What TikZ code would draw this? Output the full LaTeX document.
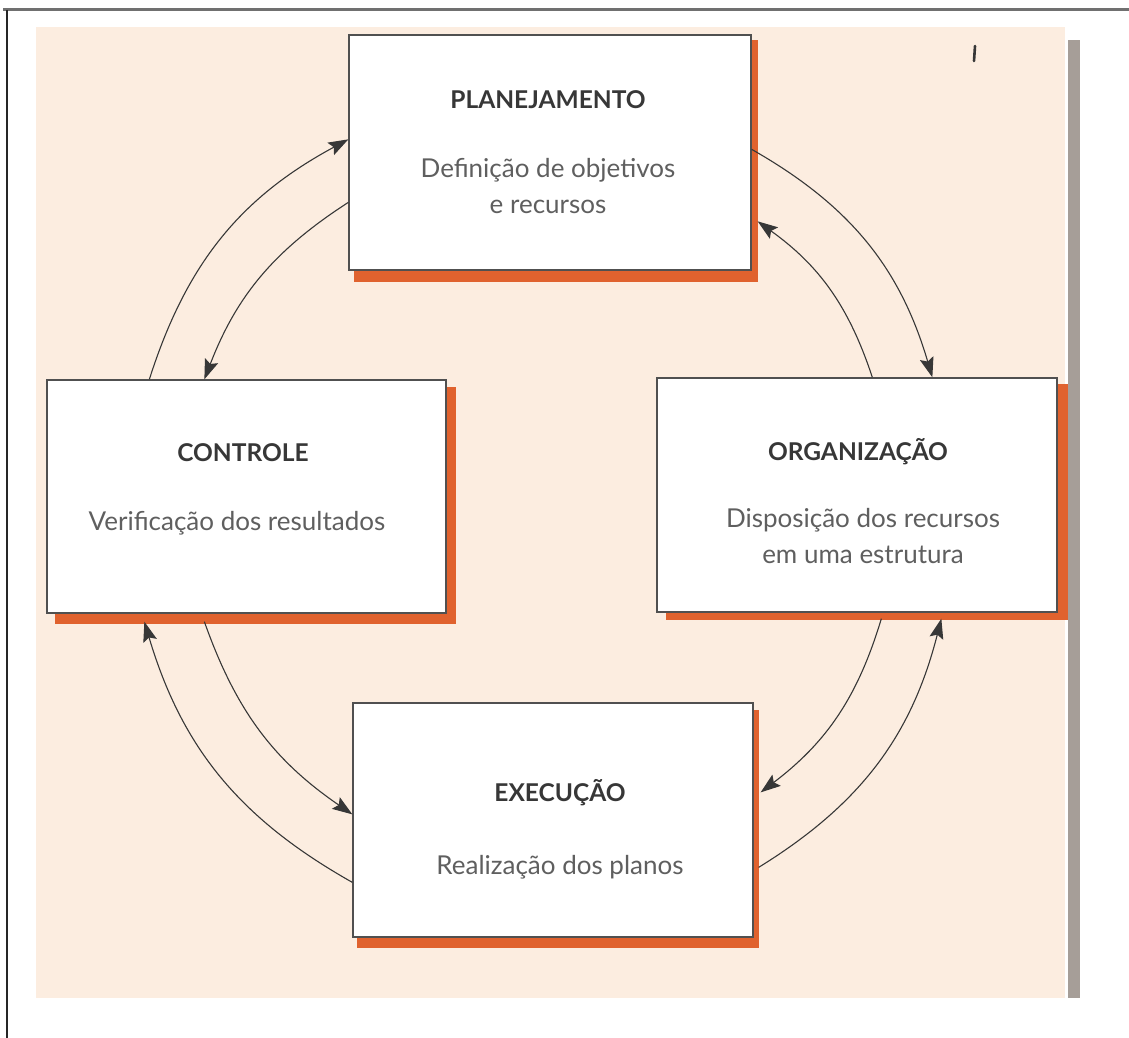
\documentclass[tikz,border=0pt]{standalone}
\usepackage{fontspec}
\setmainfont{Lato}
\usetikzlibrary{calc,arrows.meta}
\definecolor{peach}{RGB}{252,237,224}
\definecolor{shade}{RGB}{224,98,46}
\definecolor{rulec}{RGB}{112,112,112}
\definecolor{barc}{RGB}{166,158,152}
\definecolor{ink}{RGB}{55,55,55}
\definecolor{inkl}{RGB}{95,95,95}
\definecolor{edgec}{RGB}{80,80,80}
\pgfdeclarelayer{paper}
\pgfdeclarelayer{shadowlayer}
\pgfsetlayers{paper,shadowlayer,main}
\begin{document}
\begin{tikzpicture}[x=1pt,y=1pt,
  box/.style={draw=edgec, line width=1.3pt, fill=white, inner sep=0pt,
              minimum width=400pt, minimum height=234pt},
  ttl/.style={font=\fontsize{24.5}{28}\selectfont\bfseries, text=ink, inner sep=0pt},
  dsc/.style={font=\fontsize{26}{36}\selectfont, text=inkl, align=center, inner sep=0pt},
  link/.style={draw=ink, line width=1.1pt, -{Stealth[length=20pt,width=14pt,inset=3.5pt]}},
  shadowbox/.style={fill=shade},
]
\useasboundingbox (0,0) rectangle (1129,-1038);

% the four boxes
\node[box, minimum width=402pt, minimum height=235pt] (plan) at (550,-152.5) {};
\node[box, minimum width=399pt, minimum height=233pt] (ctrl) at (246.5,-496.5) {};
\node[box, minimum width=400pt, minimum height=234pt] (org)  at (857,-495) {};
\node[box, minimum width=400pt, minimum height=234pt] (exec) at (553,-820) {};

% titles and descriptions
\node[ttl] (plan-t) at (548,-100) {PLANEJAMENTO};
\node[dsc, anchor=north] (plan-d) at (548,-158) {Definição de objetivos\\e recursos};
\node[ttl] (ctrl-t) at (243,-453) {CONTROLE};
\node[dsc] (ctrl-d) at (237,-523) {Verificação dos resultados};
\node[ttl] (org-t) at (858,-452) {ORGANIZAÇÃO};
\node[dsc, anchor=north] (org-d) at (863,-508) {Disposição dos recursos\\em uma estrutura};
\node[ttl] (exec-t) at (560,-793) {EXECUÇÃO};
\node[dsc] (exec-d) at (560,-867) {Realização dos planos};

% paper background, rules and side bar
\begin{pgfonlayer}{paper}
  \fill[white] (0,0) rectangle (1129,-1038);
  \fill[peach] (36,-27) rectangle (1065,-998);
  \fill[barc] (1068,-40) rectangle (1080,-998);
  \draw[rulec, line width=3pt] (3,-10) -- (1129,-10);
  \draw[black!85, line width=2pt] (7,-10) -- (7,-1038);
  \draw[ink, line width=2.6pt, line cap=round] (975,-46) -- (974,-61);
\end{pgfonlayer}

% orange drop shadows
\begin{pgfonlayer}{shadowlayer}
  \fill[shadowbox] ($(plan.south west)+(6,-11)$) rectangle ($(plan.north east)+(6,-6)$);
  \fill[shadowbox] ($(ctrl.south west)+(9,-10)$) rectangle ($(ctrl.north east)+(9,-8)$);
  \fill[shadowbox] ($(org.south west)+(10,-7)$)  rectangle ($(org.north east)+(10,-7)$);
  \fill[shadowbox] ($(exec.south west)+(5,-10)$) rectangle ($(exec.north east)+(5,-8)$);
\end{pgfonlayer}

% connectors
\draw[link] ($(ctrl.north west)+(103,0)$) to[bend left=22]  ($(plan.north west)+(0,-105)$);
\draw[link] ($(plan.north west)+(0,-168)$) to[bend right=18] ($(ctrl.north west)+(158,0)$);
\draw[link] ($(plan.north east)+(0,-115)$) to[bend left=22]  ($(org.north west)+(276,0)$);
\draw[link] ($(org.north west)+(216,0)$)  to[bend right=18] ($(plan.north east)+(6,-187)$);
\draw[link] ($(org.south west)+(225,-6)$) to[bend left=18]  ($(exec.north east)+(7,-90)$);
\draw[link] ($(exec.north east)+(5,-165)$) to[bend right=22] ($(org.south west)+(285,-6)$);
\draw[link] ($(exec.north west)+(0,-180)$) to[bend left=22] ($(ctrl.south west)+(98,-8)$);
\draw[link] ($(ctrl.south west)+(158,-8)$) to[bend right=18] ($(exec.north west)+(0,-112)$);
\end{tikzpicture}
\end{document}
